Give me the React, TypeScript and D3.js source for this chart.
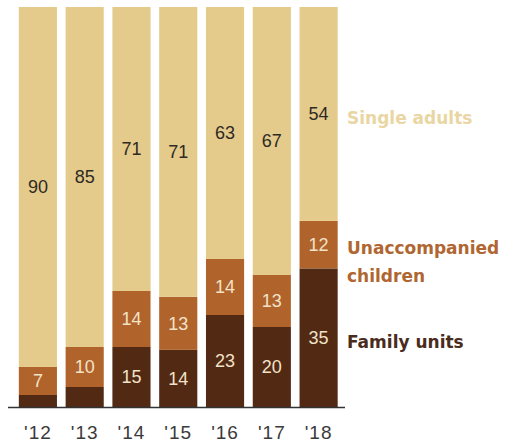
import React from "react";
import * as d3 from "d3";

const years = ["'12", "'13", "'14", "'15", "'16", "'17", "'18"];
const familyUnits = [3, 5, 15, 14, 23, 20, 35];
const unaccompanied = [7, 10, 14, 13, 14, 13, 12];
const singleAdults = [90, 85, 71, 71, 63, 67, 54];
const showFamilyLabel = [false, false, true, true, true, true, true];

const seriesKeys = ["family", "uac", "single"];
const seriesColors: Record<string, string> = {
  family: "#522a14",
  uac: "#b0642c",
  single: "#e5cb8b",
};
const labelColors: Record<string, string> = {
  family: "#f2e2c8",
  uac: "#f2e2c8",
  single: "#2e2a24",
};

const W = 512;
const H = 445;
const baseY = 407;
const topY = 7;

export default function App() {
  const rows = years.map((y, i) => ({
    year: y,
    family: familyUnits[i],
    uac: unaccompanied[i],
    single: singleAdults[i],
    idx: i,
  }));
  const stack = d3.stack<any>().keys(seriesKeys).offset(d3.stackOffsetExpand);
  const series = stack(rows);

  const x = d3
    .scaleBand<string>()
    .domain(years)
    .range([14.5, 342])
    .paddingInner(0.185)
    .paddingOuter(0.0925);
  const y = d3.scaleLinear().domain([0, 1]).range([baseY, topY]);

  const last = years.length - 1;
  const mid = (key: string) => {
    const s = series.find((d) => d.key === key)!;
    const seg = s[last];
    return (y(seg[0]) + y(seg[1])) / 2;
  };
  const legendX = 347;
  const numFont = "'Liberation Sans', Arial, sans-serif";
  const legFont = "'DejaVu Sans', sans-serif";

  return (
    <svg
      width={W}
      height={H}
      style={{ position: "absolute", left: 0, top: 0, background: "#fff" }}
    >
      {series.map((s) => (
        <g key={s.key}>
          {s.map((d, i) => (
            <rect
              key={i}
              x={x(years[i])}
              width={x.bandwidth()}
              y={y(d[1])}
              height={y(d[0]) - y(d[1])}
              fill={seriesColors[s.key]}
            />
          ))}
        </g>
      ))}
      {series.map((s) =>
        s.map((d, i) => {
          if (s.key === "family" && !showFamilyLabel[i]) return null;
          const v = (d.data as any)[s.key];
          return (
            <text
              key={s.key + i}
              x={(x(years[i]) as number) + x.bandwidth() / 2}
              y={(y(d[0]) + y(d[1])) / 2}
              dy="0.36em"
              textAnchor="middle"
              fontFamily={numFont}
              fontSize={18}
              fill={labelColors[s.key]}
            >
              {v}
            </text>
          );
        })
      )}
      <line x1={8} x2={345} y1={baseY + 0.5} y2={baseY + 0.5} stroke="#333" strokeWidth={1.5} />
      {years.map((yr) => (
        <text
          key={yr}
          x={(x(yr) as number) + x.bandwidth() / 2}
          y={439}
          textAnchor="middle"
          fontFamily={numFont}
          fontSize={19}
          letterSpacing={1}
          fill="#3a3a3a"
        >
          {yr}
        </text>
      ))}
      <g fontFamily={legFont} fontWeight="bold" fontSize={17}>
        <text x={legendX} y={mid("single") + 4} dy="0.36em" fill="#e9d6a2">
          Single adults
        </text>
        <text x={legendX} y={mid("uac") + 3} dy="0.36em" fill="#b06630">
          Unaccompanied
        </text>
        <text x={legendX} y={mid("uac") + 31} dy="0.36em" fill="#b06630">
          children
        </text>
        <text x={legendX} y={mid("family") + 4} dy="0.36em" fill="#4a2c1c">
          Family units
        </text>
      </g>
    </svg>
  );
}
